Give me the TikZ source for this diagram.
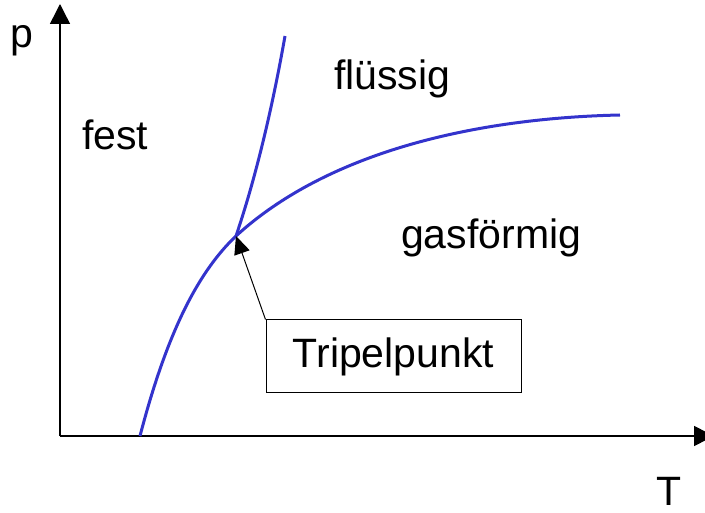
\documentclass[tikz,border=0pt]{standalone}
\usepackage{fontspec}
\setmainfont{Liberation Sans}
\usetikzlibrary{arrows.meta,positioning}

\begin{document}
\begin{tikzpicture}[x=1pt,y=-1pt,font=\fontsize{41}{46}\selectfont,
 ax/.style={-{Triangle[length=20pt,width=20pt]},line width=1.5pt},
 phase/.style={line width=3pt,draw={rgb,255:red,51;green,51;blue,204}},
 lbl/.style={inner sep=0pt,anchor=base west},
 b/.style={draw,line width=1pt,minimum width=255pt,minimum height=73pt}]
\useasboundingbox (0,0) rectangle (705,513);
% axes
\coordinate (o) at (60,436);
\coordinate (py) at (60,4);
\coordinate (tx) at (714,436);
\draw[ax] (o)--(py);
\draw[ax] (o)--(tx);
\node[lbl] (p) at (10,48) {p};
\node[lbl] (t) at (656,505) {T};
% phase boundaries
\coordinate (s0) at (140,436);
\coordinate (tp) at (236,236);
\coordinate (m1) at (285,36);
\coordinate (v1) at (620,115);
\draw[phase] (s0) .. controls (165,340) and (195,275) .. (tp)
 .. controls (330,150) and (480,118) .. (v1);
\draw[phase] (tp) .. controls (255,180) and (272,110) .. (m1);
% regions
\node[lbl] (fest) at (82,150) {fest};
\node[lbl] (fl) at (334,90) {flüssig};
\node[lbl] (gas) at (401,249) {gasförmig};
% triple point
\node[b] (box) at (393.5,356.5) {Tripelpunkt};
\draw[ax,line width=1pt,-{Triangle[length=18pt,width=16pt]}] (box.north west)--(tp);
\end{tikzpicture}
\end{document}
